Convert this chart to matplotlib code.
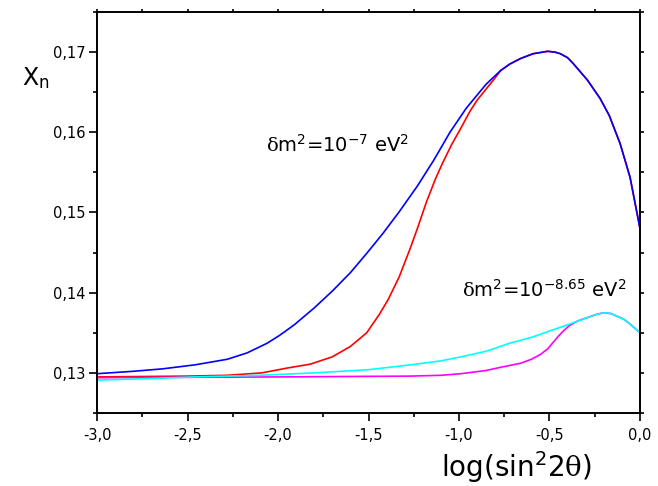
import matplotlib
matplotlib.use("Agg")
import matplotlib.pyplot as plt
from matplotlib.ticker import MultipleLocator, FuncFormatter

plt.rcParams['font.family'] = ['DejaVu Sans']
plt.rcParams['mathtext.fontset'] = 'custom'
plt.rcParams['mathtext.rm'] = 'DejaVu Serif'
plt.rcParams['mathtext.it'] = 'DejaVu Serif:italic'
plt.rcParams['mathtext.bf'] = 'DejaVu Serif:bold'

# delta m^2 = 1e-7 eV^2, blue
blue_x = [-3.0, -2.8, -2.64, -2.46, -2.28, -2.17, -2.06, -1.99, -1.91, -1.80, -1.70, -1.60,
          -1.51, -1.42, -1.33, -1.23, -1.14, -1.05, -0.96, -0.85, -0.77, -0.72, -0.66,
          -0.59, -0.51, -0.47, -0.44, -0.40, -0.37, -0.29, -0.22, -0.17, -0.11, -0.055, 0.0]
blue_y = [0.1299, 0.1302, 0.1305, 0.1310, 0.1317, 0.1325, 0.1337, 0.1347, 0.1360, 0.1381, 0.1402, 0.1425,
          0.1449, 0.1474, 0.1501, 0.1533, 0.1565, 0.1600, 0.1630, 0.1660, 0.1677, 0.1685, 0.1692,
          0.1698, 0.1701, 0.1700, 0.1698, 0.1693, 0.1686, 0.1665, 0.1642, 0.1621, 0.1586, 0.1544, 0.1480]

# delta m^2 = 1e-7 eV^2, red
red_x = [-3.0, -2.5, -2.28, -2.09, -1.95, -1.82, -1.70, -1.60, -1.51, -1.44, -1.39,
         -1.33, -1.27, -1.23, -1.18, -1.13, -1.09, -1.04, -0.99, -0.94, -0.90, -0.85,
         -0.80, -0.77, -0.72, -0.66, -0.59, -0.51, -0.47, -0.44, -0.40, -0.37, -0.29, -0.22,
         -0.17, -0.11, -0.055, 0.0]
red_y = [0.1295, 0.1296, 0.1297, 0.1300, 0.1306, 0.1311, 0.1320, 0.1333, 0.1350, 0.1373, 0.1392,
         0.1420, 0.1455, 0.1480, 0.1513, 0.1542, 0.1562, 0.1585, 0.1605, 0.1626, 0.1640, 0.1654,
         0.1668, 0.1677, 0.1685, 0.1692, 0.1698, 0.1701, 0.1700, 0.1698, 0.1693, 0.1686, 0.1665, 0.1642,
         0.1621, 0.1586, 0.1544, 0.1480]

# delta m^2 = 10^-8.65 eV^2, cyan
cyan_x = [-3.0, -2.7, -2.46, -2.1, -1.80, -1.5, -1.27, -1.1, -0.99, -0.85, -0.72, -0.59,
          -0.49, -0.40, -0.29, -0.24, -0.20, -0.16, -0.13, -0.09, -0.055, 0.0]
cyan_y = [0.1291, 0.1293, 0.1295, 0.1297, 0.1300, 0.1304, 0.1310, 0.1315, 0.1320, 0.1327, 0.1337, 0.1345,
          0.1353, 0.1360, 0.1369, 0.1373, 0.1375, 0.1374, 0.1371, 0.1367, 0.1361, 0.1350]

# delta m^2 = 10^-8.65 eV^2, magenta
mag_x = [-3.0, -2.0, -1.27, -1.1, -0.99, -0.85, -0.77, -0.66, -0.60, -0.55, -0.51, -0.48,
         -0.45, -0.42, -0.39, -0.36, -0.33, -0.29, -0.24, -0.20, -0.16, -0.13, -0.09, -0.055, 0.0]
mag_y = [0.1294, 0.1295, 0.1296, 0.1297, 0.1299, 0.1303, 0.1307, 0.1312, 0.1317, 0.1323, 0.1330, 0.1338,
         0.1346, 0.1353, 0.1359, 0.1363, 0.1366, 0.1369, 0.1373, 0.1375, 0.1374, 0.1371, 0.1367, 0.1361, 0.1350]

W, H = 658, 486
fig = plt.figure(figsize=(W / 100, H / 100), dpi=100)
ax = fig.add_axes([97 / W, 1 - 413 / H, (640 - 97) / W, (413 - 12) / H])

lw = 1.2
ax.plot(red_x, red_y, color='#ff0000', lw=lw)
ax.plot(blue_x, blue_y, color='#0000ff', lw=lw)
ax.plot(mag_x, mag_y, color='#ff00ff', lw=lw)
ax.plot(cyan_x, cyan_y, color='#00ffff', lw=lw)

ax.set_xlim(-3.0, 0.0)
ax.set_ylim(0.125, 0.175)

ax.xaxis.set_major_locator(MultipleLocator(0.5))
ax.xaxis.set_minor_locator(MultipleLocator(0.25))
ax.yaxis.set_major_locator(MultipleLocator(0.01))
ax.yaxis.set_minor_locator(MultipleLocator(0.005))

ax.xaxis.set_major_formatter(FuncFormatter(lambda v, p: f"{v:.1f}".replace('.', ',').replace('-0,0', '0,0')))
ax.yaxis.set_major_formatter(FuncFormatter(lambda v, p: f"{v:.2f}".replace('.', ',')))

for s in ax.spines.values():
    s.set_linewidth(1.4)

ax.tick_params(axis='both', which='major', direction='out', length=5.5, width=1.2,
               labelsize=10.5, top=True, right=True)
ax.tick_params(axis='both', which='minor', direction='out', length=3, width=1.2,
               top=True, right=True)
ax.tick_params(axis='x', which='major', pad=5)
ax.tick_params(axis='y', which='major', pad=3)
ax.tick_params(axis='x', which='both', labeltop=False)
ax.tick_params(axis='y', which='both', labelright=False)
for t in ax.xaxis.get_major_ticks() + ax.xaxis.get_minor_ticks():
    t.tick2line.set_markersize(2)
for t in ax.yaxis.get_major_ticks() + ax.yaxis.get_minor_ticks():
    t.tick2line.set_markersize(3)

fig.text(22 / W, 1 - 85 / H, r'X$_\mathregular{n}$', fontsize=17, ha='left', va='baseline')
fig.text(516 / W, 1 - 477 / H, r'log(sin$^\mathregular{2}$2$\mathrm{\theta}$)', fontsize=20,
         ha='center', va='baseline')
fig.text(266 / W, 1 - 152 / H, r'$\mathrm{\delta}$m$^\mathregular{2}$=10$^{\mathregular{-7}}$ eV$^\mathregular{2}$',
         fontsize=14, ha='left', va='baseline')
fig.text(462 / W, 1 - 297 / H, r'$\mathrm{\delta}$m$^\mathregular{2}$=10$^{\mathregular{-8.65}}$ eV$^\mathregular{2}$',
         fontsize=14, ha='left', va='baseline')

fig.savefig('out.png', dpi=100)
